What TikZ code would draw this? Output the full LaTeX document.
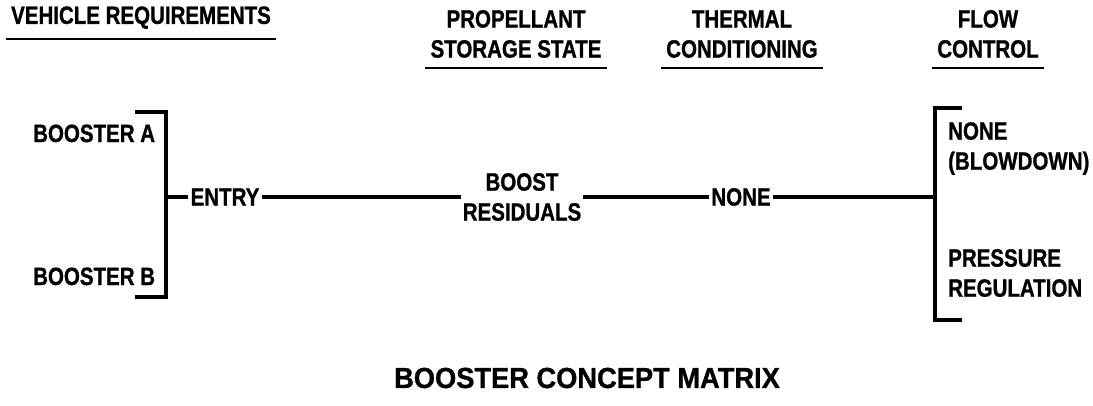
\documentclass[tikz,border=0pt]{standalone}
\usepackage{fontspec}
\setmainfont{Liberation Sans}[FakeStretch=0.82, FakeBold=1]
\newfontfamily\titlefont{Liberation Sans}[FakeStretch=0.94, FakeBold=1]
\usepackage{tikz}

\tikzset{
  lbl/.style={inner sep=0pt, font=\bfseries\fontsize{25}{30}\selectfont},
  hdr/.style={lbl, align=center, inner xsep=5pt, inner ysep=10pt, anchor=south},
  conn/.style={line width=3.5pt},
  brk/.style={line width=4.5pt}
}

\begin{document}
\begin{tikzpicture}[x=1pt,y=-1pt]
        \useasboundingbox (0,0) rectangle (1093,405);
        %
        % column headings
        \node[hdr] (vr) at (141,39) {VEHICLE REQUIREMENTS};
        \node[hdr] (pss) at (516,68) {PROPELLANT\\STORAGE STATE};
        \node[hdr] (tc) at (742,68) {THERMAL\\CONDITIONING};
        \node[hdr] (fc) at (988,68) {FLOW\\CONTROL};
        \draw [line width=2.5pt] (vr.south west) -- (vr.south east);
        \draw [line width=2.5pt] (pss.south west) -- (pss.south east);
        \draw [line width=2.5pt] (tc.south west) -- (tc.south east);
        \draw [line width=2.5pt] (fc.south west) -- (fc.south east);
        %
        % vehicles
        \node[lbl, anchor=base west] (ba) at (33,142) {BOOSTER A};
        \node[lbl, anchor=base west] (bb) at (33,285) {BOOSTER B};
        \draw [brk] (135,112) -- (166,112) -- (166,297) -- (135,297);
        \coordinate (lj) at (166,197);
        %
        % chain
        \node[lbl, inner xsep=2pt] (entry) at (225,197) {ENTRY};
        \node[lbl, align=center, inner xsep=2pt] (br) at (522,197) {BOOST\\RESIDUALS};
        \node[lbl, inner xsep=2pt] (none) at (741,197) {NONE};
        \coordinate (rj) at (935,197);
        \draw [conn] (lj) -- (entry.west);
        \draw [conn] (entry.east) -- (br.west);
        \draw [conn] (br.east) -- (none.west);
        \draw [conn] (none.east) -- (rj);
        %
        % flow control options
        \draw [brk] (962,108) -- (935,108) -- (935,320) -- (962,320);
        \node[lbl, align=left, anchor=north west] (blow) at (948,122) {NONE\\(BLOWDOWN)};
        \node[lbl, align=left, anchor=north west] (press) at (948,249) {PRESSURE\\REGULATION};
        %
        \node[inner sep=0pt, font=\titlefont\bfseries\fontsize{29}{32}\selectfont] (title) at (587,378) {BOOSTER CONCEPT MATRIX};
      \end{tikzpicture}
\end{document}
